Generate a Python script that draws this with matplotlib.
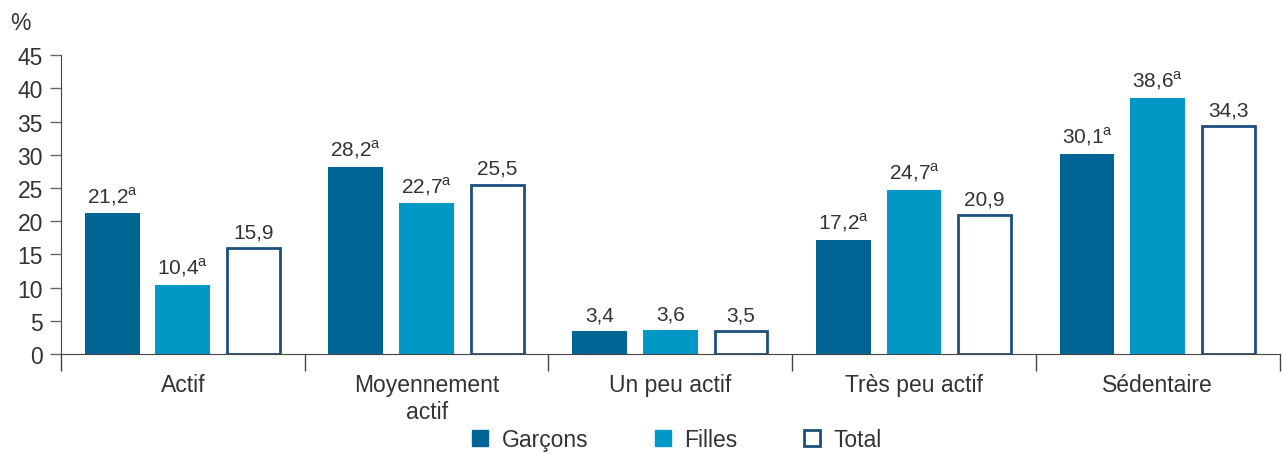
import matplotlib
matplotlib.use("Agg")
import matplotlib.pyplot as plt
import numpy as np
from matplotlib.patches import Patch

plt.rcParams['font.family'] = ['Liberation Sans', 'DejaVu Sans']

categories = ["Actif", "Moyennement\nactif", "Un peu actif", "Très peu actif", "Sédentaire"]
garcons = [21.2, 28.2, 3.4, 17.2, 30.1]
filles = [10.4, 22.7, 3.6, 24.7, 38.6]
total = [15.9, 25.5, 3.5, 20.9, 34.3]
garcons_sup = ["a", "a", "", "a", "a"]
filles_sup = ["a", "a", "", "a", "a"]
total_sup = ["", "", "", "", ""]
yticks = [0, 5, 10, 15, 20, 25, 30, 35, 40, 45]

c_g = "#006595"
c_f = "#0099c6"
c_t_edge = "#1d4f7c"
txt = "#333333"

fig = plt.figure(figsize=(12.82, 4.56), dpi=100)
ax = fig.add_axes([0.0476, 0.2215, 0.9505, 0.6555])

x = np.arange(len(categories))
w = 0.225
off = 0.29
ax.bar(x - off, garcons, w, color=c_g, label="Garçons")
ax.bar(x, filles, w, color=c_f, label="Filles")
ax.bar(x + off, total, w - 0.008, color="white", edgecolor=c_t_edge, linewidth=2, label="Total")

def lab(v, s):
    t = f"{v:.1f}".replace(".", ",")
    if s:
        t += r"$^{\mathregular{" + s + "}}$"
    return t

for vals, sups, dx in [(garcons, garcons_sup, -off), (filles, filles_sup, 0), (total, total_sup, off)]:
    for i, (v, s) in enumerate(zip(vals, sups)):
        ax.text(i + dx, v + 1.0, lab(v, s), ha="center", va="bottom", fontsize=15, color=txt)

ax.set_xlim(-0.5, 4.5)
ax.set_ylim(0, 45)
ax.set_yticks(yticks)
ax.set_yticklabels([str(t) for t in yticks], fontsize=16.5, color=txt)
ax.tick_params(axis="y", length=8, width=1, color="#666666", pad=5)
ax.set_xticks(x)
ax.set_xticklabels(categories, fontsize=16.5, color=txt, linespacing=1.2)
ax.tick_params(axis="x", which="major", length=0, pad=14)
ax.set_xticks(np.arange(-0.5, 5, 1), minor=True)
ax.tick_params(axis="x", which="minor", length=12, width=1, color="#444444")

for s in ["top", "right"]:
    ax.spines[s].set_visible(False)
ax.spines["left"].set_color("#444444")
ax.spines["bottom"].set_color("#444444")

fig.text(0.008, 0.935, "%", fontsize=16.5, color=txt)

handles = [Patch(facecolor=c_g, edgecolor=c_g, label="Garçons"),
           Patch(facecolor=c_f, edgecolor=c_f, label="Filles"),
           Patch(facecolor="white", edgecolor=c_t_edge, linewidth=2, label="Total")]
fig.legend(handles=handles, loc="center", bbox_to_anchor=(0.528, 0.033), ncol=3, frameon=False,
           fontsize=16.5, handlelength=0.7, handleheight=0.7, handletextpad=0.6,
           columnspacing=2.9, labelcolor=txt)

fig.savefig("out.png", dpi=100)
